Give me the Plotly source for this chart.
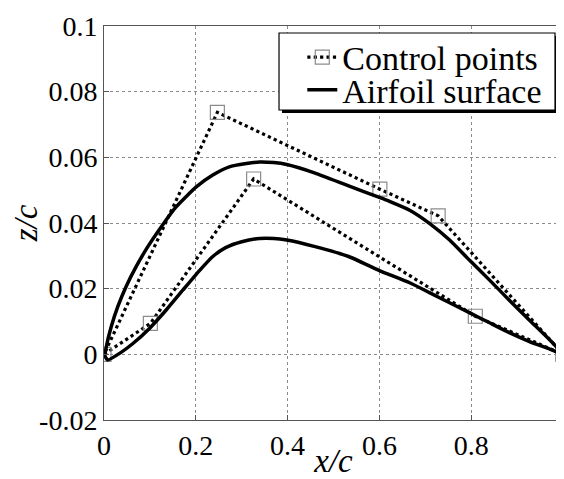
import plotly.graph_objects as go

# Control polygon (trailing edge -> upper -> leading edge -> lower -> trailing edge)
ctrl_x = [1.0, 0.728, 0.601, 0.247, 0.0, 0.101, 0.326, 0.809, 1.0]
ctrl_z = [0.0, 0.0422, 0.0503, 0.0737, 0.0, 0.0094, 0.0534, 0.0116, 0.0]

# Airfoil upper surface (trailing edge -> leading edge)
upper_x = [1.0, 0.971, 0.927, 0.883, 0.840, 0.796, 0.753, 0.709, 0.666, 0.622,
           0.600, 0.533, 0.460, 0.398, 0.370, 0.339, 0.310, 0.273, 0.237, 0.201,
           0.157, 0.1246, 0.0955, 0.070, 0.048, 0.030, 0.0157, 0.005, 0.002]
upper_z = [0.0, 0.0044, 0.0104, 0.0165, 0.0226, 0.0287, 0.0348, 0.0399, 0.0439, 0.0466,
           0.0478, 0.0513, 0.0552, 0.0578, 0.0584, 0.0586, 0.0581, 0.0571, 0.0546, 0.0510,
           0.0449, 0.0388, 0.0328, 0.0267, 0.0206, 0.0145, 0.0084, 0.0023, -0.0005]

# Airfoil lower surface (leading edge -> trailing edge)
lower_x = [0.0083, 0.034, 0.063, 0.099, 0.1355, 0.172, 0.208, 0.237, 0.265, 0.300,
           0.339, 0.370, 0.398, 0.460, 0.533, 0.600, 0.666, 0.709, 0.753, 0.796,
           0.840, 0.883, 0.927, 0.971, 1.0]
lower_z = [-0.0017, 0.0003, 0.0033, 0.0079, 0.0135, 0.0196, 0.0255, 0.0298, 0.0325, 0.0343,
           0.0353, 0.0353, 0.0348, 0.0328, 0.0298, 0.0255, 0.0218, 0.0188, 0.0157, 0.0127,
           0.0096, 0.0066, 0.0039, 0.0016, 0.0]

x_ticks = [0, 0.2, 0.4, 0.6, 0.8, 1]
x_tick_labels = ["0", "0.2", "0.4", "0.6", "0.8", "1"]
z_ticks = [-0.02, 0, 0.02, 0.04, 0.06, 0.08, 0.1]
z_tick_labels = ["-0.02", "0", "0.02", "0.04", "0.06", "0.08", "0.1"]

FONT = "Liberation Serif"

fig = go.Figure()

fig.add_trace(go.Scatter(
    x=ctrl_x, y=ctrl_z, mode="lines+markers", name="Control points", legend="legend",
    line=dict(color="black", width=3.2, dash="dot"),
    marker=dict(symbol="square-open", size=14, color="#8c8c8c", line=dict(width=1.2, color="#8c8c8c")),
))

fig.add_trace(go.Scatter(
    x=upper_x + lower_x, y=upper_z + lower_z, mode="lines", name="Airfoil surface", legend="legend2",
    line=dict(color="black", width=3.5, shape="spline", smoothing=0.5),
))

axis_common = dict(
    showgrid=True, gridcolor="#8a8a8a", gridwidth=1, griddash="dot",
    showline=True, linecolor="#555555", linewidth=1, mirror=True,
    ticks="inside", ticklen=5, tickcolor="#555555",
    zeroline=False, automargin=False, ticklabeloverflow="allow",
    tickfont=dict(family=FONT, size=28, color="black"),
)

fig.update_xaxes(
    range=[0, 1], tickvals=x_ticks, ticktext=x_tick_labels,
    title=dict(text="<i>x/c</i>", font=dict(family=FONT, size=33, color="black"), standoff=0),
    **axis_common,
)
fig.update_yaxes(
    range=[-0.02, 0.1], tickvals=z_ticks, ticktext=z_tick_labels,
    title=dict(text="<i>z/c</i>", font=dict(family=FONT, size=33, color="black"), standoff=7),
    **axis_common,
)

# legend frame with drop shadow (paper coordinates)
fig.add_shape(type="rect", xref="paper", yref="paper", layer="above",
              x0=0.3878, x1=0.989, y0=0.7792, y1=0.9746,
              fillcolor="black", line=dict(width=0))
fig.add_shape(type="rect", xref="paper", yref="paper", layer="above",
              x0=0.3813, x1=0.9826, y0=0.7868, y1=0.9822,
              fillcolor="white", line=dict(color="black", width=1.2))

legend_common = dict(
    xanchor="left", yanchor="middle",
    bgcolor="rgba(0,0,0,0)", borderwidth=0,
    font=dict(family=FONT, size=34, color="black"),
)

fig.update_layout(
    width=556, height=471,
    margin=dict(l=96, r=1, t=18, b=59),
    paper_bgcolor="white", plot_bgcolor="white",
    font=dict(family=FONT, color="black"),
    showlegend=True,
    legend=dict(x=0.432, y=0.920, **legend_common),
    legend2=dict(x=0.432, y=0.837, **legend_common),
)

# clip anything (the half-visible "1" tick label) at the figure edge, as in the reference
clip_js = "document.querySelectorAll('.main-svg').forEach(function(s){s.style.overflow='hidden';});"

fig.write_html("out.html", post_script=clip_js)
